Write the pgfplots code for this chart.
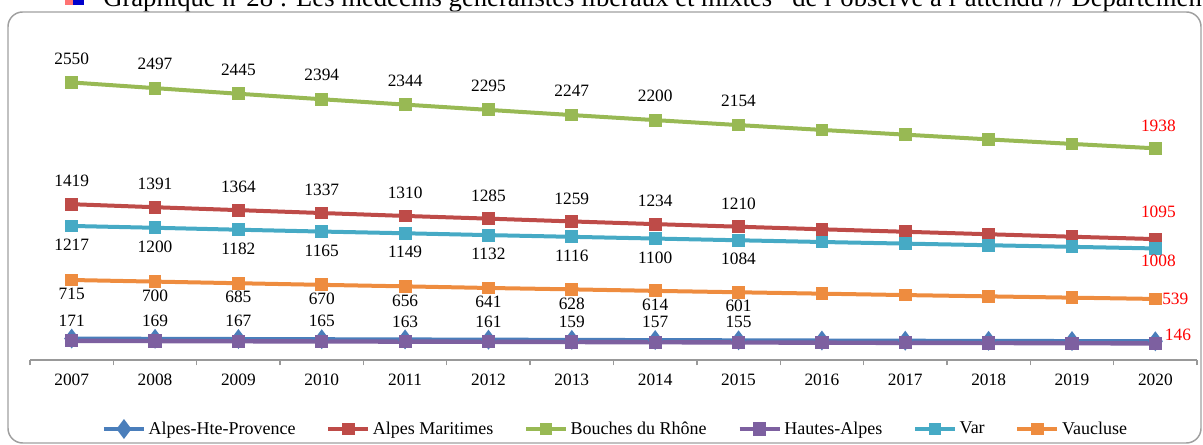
\documentclass[border=0pt]{standalone}
\usepackage{fontspec}
\setmainfont{Liberation Serif}
\usepackage{pgfplots}
\usepackage{pgfplotstable}
\pgfplotsset{compat=1.18}
\definecolor{caph}{HTML}{4A7EBB}
\definecolor{cam}{HTML}{BE4B48}
\definecolor{cbdr}{HTML}{98B954}
\definecolor{cha}{HTML}{7D60A0}
\definecolor{cvar}{HTML}{46AAC5}
\definecolor{cvau}{HTML}{EE8C3F}
\pgfplotsset{/pgf/number format/.cd, 1000 sep={}, assume math mode=true}
\pgfplotstableread{
year aph am bdr ha var vau
2007 171 1419 2550 150 1217 715
2008 169 1391 2497 148 1200 700
2009 167 1364 2445 146 1182 685
2010 165 1337 2394 144 1165 670
2011 163 1310 2344 143 1149 656
2012 161 1285 2295 141 1132 641
2013 159 1259 2247 139 1116 628
2014 157 1234 2200 137 1100 614
2015 155 1210 2154 135 1084 601
2016 153 1186 2109 133 1068 588
2017 151 1163 2065 131 1053 575
2018 150 1140 2021 130 1038 563
2019 148 1117 1979 128 1023 551
2020 146 1095 1938 126 1008 539
}\data
\begin{document}
\begin{tikzpicture}
\begin{scope}
\clip (0,0) rectangle (902.25pt,333.75pt);
\fill[red!55!white] (48.75pt,330pt) rectangle (54.75pt,334pt);
\fill[blue!80!black] (54.75pt,330pt) rectangle (63pt,334pt);
\node[anchor=base west, inner sep=0, font=\fontsize{20}{22}\selectfont] at (77.25pt,328.5pt) {Graphique n°28 : Les médecins généralistes libéraux et mixtes* de l'observé à l'attendu // Département des Bouches-du-Rhône};
\end{scope}
\draw[gray!75, line width=1.1pt, rounded corners=11pt] (6pt,1.5pt) rectangle (900.75pt,324.75pt);
\begin{axis}[
  at={(22.5pt,63.75pt)}, anchor=south west,
  scale only axis, width=875.25pt, height=244.5pt,
  xmin=2006.5, xmax=2020.5, ymin=-28, ymax=3000,
  axis x line=bottom, axis y line=none,
  x axis line style={-, draw=gray!80, line width=1pt},
  xtick={2007,2008,2009,2010,2011,2012,2013,2014,2015,2016,2017,2018,2019,2020},
  xticklabels={2007,2008,2009,2010,2011,2012,2013,2014,2015,2016,2017,2018,2019,2020},
  major tick length=0pt,
  minor xtick={2006.5,2007.5,2008.5,2009.5,2010.5,2011.5,2012.5,2013.5,2014.5,2015.5,2016.5,2017.5,2018.5,2019.5,2020.5},
  minor tick length=4pt, tick align=outside,
  minor tick style={draw=gray!80, line width=1pt},
  xticklabel style={font=\fontsize{13}{15}\selectfont, yshift=-7pt},
  clip=false,
  legend columns=6,
  legend style={draw=none, at={(0.502,-0.2117)}, anchor=center, font=\fontsize{13.5}{15}\selectfont,
    /tikz/every even column/.append style={column sep=21pt}},
  legend image code/.code={\draw[mark repeat=2,mark phase=2,#1] plot coordinates {(0pt,0pt) (15pt,0pt) (30pt,0pt)};},
  lbl/.style={draw=none, mark=none, forget plot, point meta=y,
     nodes near coords, nodes near coords style={anchor=center, font=\fontsize{13}{15}\selectfont, text=black, yshift=#1}},
  rlbl/.style={draw=none, mark=none, forget plot, point meta=y,
     restrict x to domain=2020:2020,
     nodes near coords, nodes near coords style={font=\fontsize{13}{15}\selectfont, text=red, #1}},
]
\addplot[color=caph, line width=3pt, mark=diamond*, mark size=5pt] table[x=year,y=aph] {\data};
\addlegendentry{Alpes-Hte-Provence}
\addplot[color=cam, line width=3pt, mark=square*, mark size=3.3pt] table[x=year,y=am] {\data};
\addlegendentry{Alpes Maritimes}
\addplot[color=cbdr, line width=3pt, mark=square*, mark size=3.3pt] table[x=year,y=bdr] {\data};
\addlegendentry{Bouches du Rhône}
\addplot[color=cha, line width=3.3pt, mark=square*, mark size=3.3pt] table[x=year,y=ha] {\data};
\addlegendentry{Hautes-Alpes}
\addplot[color=cvar, line width=3pt, mark=square*, mark size=3.3pt] table[x=year,y=var] {\data};
\addlegendentry{Var}
\addplot[color=cvau, line width=3pt, mark=square*, mark size=3.3pt] table[x=year,y=vau] {\data};
\addlegendentry{Vaucluse}
% labels 2007-2015
\addplot[lbl=13.5pt, restrict x to domain=2007:2015] table[x=year,y=aph] {\data};
\addplot[lbl=17.25pt, restrict x to domain=2007:2015] table[x=year,y=am] {\data};
\addplot[lbl=18pt, restrict x to domain=2007:2015] table[x=year,y=bdr] {\data};
\addplot[lbl=-14.25pt, restrict x to domain=2007:2015] table[x=year,y=var] {\data};
\addplot[lbl=-10.5pt, restrict x to domain=2007:2015] table[x=year,y=vau] {\data};
% red labels 2020
\addplot[rlbl={anchor=center, xshift=2.25pt, yshift=17.25pt}] table[x=year,y=bdr] {\data};
\addplot[rlbl={anchor=center, xshift=2.25pt, yshift=20.25pt}] table[x=year,y=am] {\data};
\addplot[rlbl={anchor=center, xshift=2.25pt, yshift=-9pt}] table[x=year,y=var] {\data};
\addplot[rlbl={anchor=west, inner sep=0pt, xshift=5pt, yshift=0pt}] table[x=year,y=vau] {\data};
\addplot[rlbl={anchor=west, inner sep=0pt, xshift=7pt, yshift=4.5pt}] table[x=year,y=aph] {\data};
\end{axis}
\pgfresetboundingbox
\path[use as bounding box] (0,0) rectangle (902.25pt,333.75pt);
\end{tikzpicture}
\end{document}
